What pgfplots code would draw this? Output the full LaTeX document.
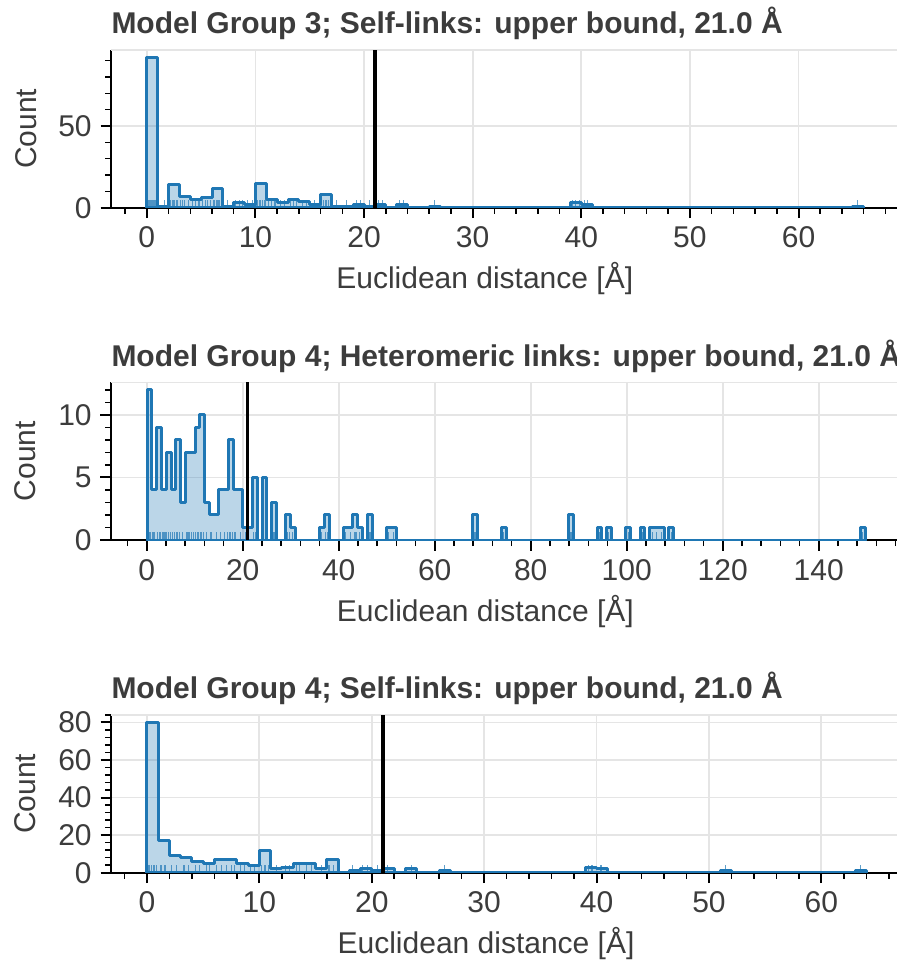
\documentclass[border=0pt]{standalone}
\usepackage{fontspec}
\setmainfont{Liberation Sans}
\usepackage{pgfplots}
\pgfplotsset{compat=1.18}

\definecolor{cA}{RGB}{31,119,180}
\definecolor{gridc}{RGB}{229,229,229}
\definecolor{txt}{RGB}{60,60,60}

% rug tick: short vertical stroke upward from the point
\pgfdeclareplotmark{rug}{%
  \pgfpathmoveto{\pgfpointorigin}%
  \pgfpathlineto{\pgfpoint{0pt}{3.1pt}}%
  \pgfusepathqstroke}

\pgfplotsset{
  panel/.style={
    scale only axis,
    height=63.1pt,
    ymin=0,
    axis x line*=bottom, axis y line*=left,
    axis line style={black, line width=0.8pt, -},
    tick align=outside,
    major tick length=4.2pt, minor tick length=2.4pt,
    every tick/.style={black, line width=0.8pt},
    every minor tick/.style={black, line width=0.6pt},
    grid=major, major grid style={gridc, line width=0.7pt},
    font=\fontsize{12}{14}\selectfont,
    tick label style={font=\fontsize{12}{14}\selectfont, text=txt},
    /pgf/number format/assume math mode=true,
    title style={at={(0,1)}, anchor=base west, yshift=0.4pt, inner sep=0pt,
      font=\fontsize{12}{14}\selectfont\bfseries, text=txt},
    xlabel={Euclidean distance [Å]},
    xlabel style={at={(axis description cs:0.474,0)}, anchor=base,
      yshift=-32.4pt, inner sep=0pt, text=txt},
    ylabel={Count},
    ylabel style={at={(axis description cs:-0.095,0.5)}, anchor=base,
      inner sep=0pt, text=txt},
  },
  hist/.style={const plot, draw=cA, fill=cA, fill opacity=0.3,
    draw opacity=1, line width=1.2pt, line join=round},
  rugs/.style={only marks, mark=rug, cA, mark options={line width=0.45pt, opacity=0.7}},
  bound/.style={black, line width=1.4pt},
}

\begin{document}
\begin{tikzpicture}

% ---------- Model Group 3, self-links ----------
\begin{axis}[panel,
  at={(44.4pt,-83.08pt)}, anchor=south west,
  width=315.4pt,
  xmin=-3.3, xmax=69.3, ymax=96.6,
  xtick={0,10,...,70}, minor xtick={-2,0,...,68},
  ytick={0,50}, minor ytick={0,10,...,90},
  title={Model Group 3; Self-links: upper bound, 21.0 Å},
]
\draw[gridc, line width=0.7pt] (rel axis cs:0,1) -- (rel axis cs:1,1);
\addplot[hist] coordinates {
 (0,92) (1,1) (2,14) (3,7) (4,5) (5,6) (6,12) (7,1) (8,3) (9,2)
 (10,15) (11,5) (12,3) (13,5) (14,4) (15,2) (16,8) (17,1) (18,1) (19,2)
 (20,1) (21,2) (22,0) (23,2) (24,0) (26,1) (27,0) (39,3) (40,2) (41,0)
 (65,1) (66,1)} \closedcycle;
\addplot[rugs] coordinates {
 (0.05,0) (0.15,0) (0.25,0) (0.35,0) (0.45,0) (0.55,0) (0.65,0) (0.75,0) (0.85,0)
 (1.6,0) (2.15,0) (2.35,0) (2.5,0) (2.7,0) (2.85,0) (3.1,0) (3.3,0) (3.5,0) (3.8,0)
 (4.2,0) (4.5,0) (4.8,0) (5.15,0) (5.4,0) (5.6,0) (5.85,0)
 (6.1,0) (6.25,0) (6.4,0) (6.55,0) (6.7,0) (6.85,0) (7.4,0) (8.2,0) (8.5,0) (8.8,0)
 (9.3,0) (9.7,0) (10.05,0) (10.2,0) (10.35,0) (10.5,0) (10.65,0) (10.8,0) (10.95,0)
 (11.2,0) (11.5,0) (11.8,0) (12.3,0) (12.7,0) (13.2,0) (13.5,0) (13.8,0)
 (14.3,0) (14.7,0) (15.4,0) (16.1,0) (16.3,0) (16.5,0) (16.7,0) (16.9,0)
 (17.5,0) (18.4,0) (19.3,0) (19.7,0) (20.5,0) (21.3,0) (21.7,0) (23.3,0) (23.6,0)
 (26.5,0) (39.2,0) (39.5,0) (39.8,0) (40.3,0) (40.6,0) (65.4,0)};
\addplot[bound] coordinates {(21,0) (21,96.6)};
\end{axis}

% ---------- Model Group 4, heteromeric links ----------
\begin{axis}[panel,
  at={(44.4pt,-216pt)}, anchor=south west,
  width=315.9pt,
  xmin=-7.44, xmax=157.1, ymax=12.6,
  xtick={0,20,...,160}, minor xtick={-4,0,...,156},
  ytick={0,5,10}, minor ytick={0,1,...,12},
  title={Model Group 4; Heteromeric links: upper bound, 21.0 Å},
]
\draw[gridc, line width=0.7pt] (rel axis cs:0,1) -- (rel axis cs:1,1);
\addplot[hist] coordinates {
 (0.10,12) (1.10,4) (2.09,9) (3.09,4) (4.09,7) (5.09,4) (6.08,8) (7.08,3)
 (8.08,7) (10.07,9) (11.07,10) (12.06,3) (13.06,2) (15.06,4) (17.05,8)
 (18.05,4) (20.04,1) (22.03,5) (23.03,0) (24.03,5) (25.03,0) (26.02,3)
 (27.02,0) (29.01,2) (30.01,1) (31.01,0) (35.99,1) (36.99,2) (37.99,0)
 (40.98,1) (42.97,2) (43.97,1) (44.97,0) (45.96,2) (46.96,0) (49.95,1)
 (51.94,0) (67.90,2) (68.89,0) (73.88,1) (74.88,0) (87.84,2) (88.83,0)
 (93.82,1) (94.82,0) (95.81,1) (96.81,0) (99.80,1) (100.80,0) (102.79,1)
 (103.79,0) (104.79,1) (107.78,0) (108.77,1) (109.77,0) (148.65,1) (149.65,1)}
 \closedcycle;
\addplot[rugs] coordinates {
 (0.2,0) (0.5,0) (0.8,0) (1.3,0) (1.7,0) (2.3,0) (2.6,0) (2.9,0) (3.4,0) (3.8,0)
 (4.2,0) (4.6,0) (4.9,0) (5.4,0) (5.8,0) (6.2,0) (6.5,0) (6.9,0) (7.5,0)
 (8.2,0) (8.6,0) (9.0,0) (9.4,0) (9.8,0) (10.2,0) (10.5,0) (10.8,0)
 (11.2,0) (11.5,0) (11.8,0) (12.5,0) (13.4,0) (14.5,0) (15.3,0) (16.2,0) (16.8,0)
 (17.2,0) (17.5,0) (17.9,0) (18.4,0) (19.5,0) (20.5,0) (22.3,0) (22.7,0)
 (24.3,0) (24.7,0) (26.3,0) (26.7,0) (29.3,0) (29.7,0) (30.4,0)
 (36.5,0) (37.3,0) (37.7,0) (41.4,0) (42.4,0) (43.3,0) (43.6,0) (44.4,0)
 (46.3,0) (46.7,0) (50.4,0) (51.4,0) (68.3,0) (68.6,0) (74.4,0) (88.2,0) (88.6,0)
 (94.3,0) (96.3,0) (100.3,0) (103.3,0) (105.3,0) (106.3,0) (107.3,0) (109.3,0)
 (149.1,0)};
\addplot[bound] coordinates {(21,0) (21,12.6)};
\end{axis}

% ---------- Model Group 4, self-links ----------
\begin{axis}[panel,
  at={(44.4pt,-349.08pt)}, anchor=south west,
  width=316.5pt,
  xmin=-3.2, xmax=67.2, ymax=84,
  xtick={0,10,...,70}, minor xtick={-2,0,...,66},
  ytick={0,20,...,80}, minor ytick={0,4,...,84},
  title={Model Group 4; Self-links: upper bound, 21.0 Å},
]
\draw[gridc, line width=0.7pt] (rel axis cs:0,1) -- (rel axis cs:1,1);
\addplot[hist] coordinates {
 (0,80) (1,17) (2,9) (3,8) (4,6) (5,5) (6,7) (8,5) (9,4) (10,12) (11,2)
 (12,3) (13,5) (15,2) (16,7) (17,0) (18,1) (19,2) (20,1) (21,2) (22,0)
 (23,2) (24,0) (26,1) (27,0) (39,3) (40,2) (41,0) (51,1) (52,0) (63,1) (64,1)}
 \closedcycle;
\addplot[rugs] coordinates {
 (0.1,0) (0.25,0) (0.4,0) (0.55,0) (0.7,0) (0.85,0) (1.25,0) (1.6,0) (2.2,0) (2.6,0)
 (3.3,0) (3.7,0) (4.3,0) (4.7,0) (5.3,0) (5.6,0) (6.2,0) (6.6,0) (7.1,0) (7.5,0)
 (7.8,0) (8.3,0) (8.7,0) (9.2,0) (9.6,0) (10.2,0) (10.5,0) (10.8,0) (11.5,0)
 (12.3,0) (12.7,0) (13.3,0) (13.6,0) (14.2,0) (14.6,0) (15.5,0) (16.2,0) (16.6,0)
 (18.3,0) (19.2,0) (19.6,0) (20.5,0) (21.4,0) (23.5,0) (26.5,0)
 (39.3,0) (39.6,0) (40.4,0) (51.5,0) (63.5,0)};
\addplot[bound] coordinates {(21,0) (21,84)};
\end{axis}

\pgfresetboundingbox
\path[use as bounding box] (0,0) rectangle (358.4pt,-384.4pt);
\end{tikzpicture}
\end{document}
